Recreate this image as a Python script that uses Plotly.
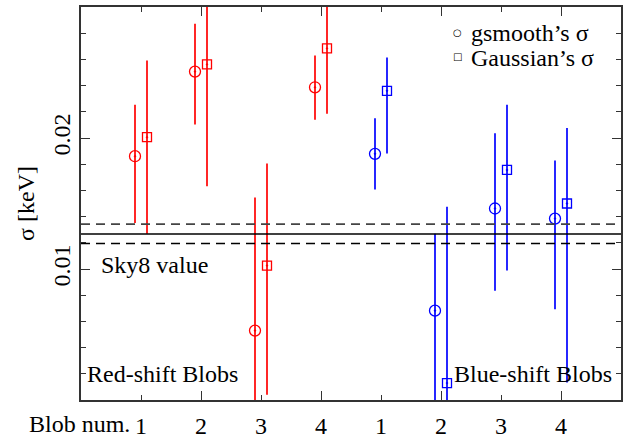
import plotly.graph_objects as go

# Blob tick labels along the x axis (red-shift 1-4, blue-shift 1-4)
blob_labels = ["1", "2", "3", "4", "1", "2", "3", "4"]
blob_ticks = [1, 2, 3, 4, 5, 6, 7, 8]
red_pos = [1, 2, 3, 4]
blue_pos = [5, 6, 7, 8]

# gsmooth's sigma [keV] with lower / upper bounds
red_gs = [0.01861, 0.02507, 0.00530, 0.02387]
red_gs_lo = [0.01352, 0.02103, -0.00500, 0.02140]
red_gs_hi = [0.02253, 0.02873, 0.01545, 0.02629]
blue_gs = [0.01879, 0.00682, 0.01462, 0.01385]
blue_gs_lo = [0.01607, -0.00500, 0.00834, 0.00692]
blue_gs_hi = [0.02150, 0.01270, 0.02036, 0.01829]

# Gaussian's sigma [keV] with lower / upper bounds
red_ga = [0.02006, 0.02562, 0.01026, 0.02684]
red_ga_lo = [0.01270, 0.01632, 0.00041, 0.02185]
red_ga_hi = [0.02592, 0.03400, 0.01806, 0.03300]
blue_ga = [0.02360, 0.00129, 0.01756, 0.01500]
blue_ga_lo = [0.01881, -0.01000, 0.00989, 0.00133]
blue_ga_hi = [0.02614, 0.01475, 0.02253, 0.02076]

# Sky8 reference value and its range
sky8 = 0.01267
sky8_lo = 0.01195
sky8_hi = 0.01343

SERIF = "Liberation Serif, Times New Roman, serif"
RED = "#ff0000"
BLUE = "#0000ff"
OFFSET = 0.1  # horizontal shift between the two estimators of one blob

fig = go.Figure()


def add_series(pos, val, lo, hi, color, symbol, size, shift):
    fig.add_trace(go.Scatter(
        x=[p + shift for p in pos],
        y=val,
        mode="markers",
        marker=dict(symbol=symbol, size=size, color=color,
                    line=dict(color=color, width=1.3)),
        error_y=dict(type="data", symmetric=False,
                     array=[h - v for h, v in zip(hi, val)],
                     arrayminus=[v - l for v, l in zip(val, lo)],
                     color=color, thickness=1.7, width=0),
        showlegend=False,
        xaxis="x", yaxis="y",
    ))


add_series(red_pos, red_gs, red_gs_lo, red_gs_hi, RED, "circle-open-dot", 11, -OFFSET)
add_series(red_pos, red_ga, red_ga_lo, red_ga_hi, RED, "square-open-dot", 9, OFFSET)
add_series(blue_pos, blue_gs, blue_gs_lo, blue_gs_hi, BLUE, "circle-open-dot", 11, -OFFSET)
add_series(blue_pos, blue_ga, blue_ga_lo, blue_ga_hi, BLUE, "square-open-dot", 9, OFFSET)

# Sky8 value: solid line with dashed range
fig.add_hline(y=sky8, line=dict(color="black", width=1.3))
fig.add_hline(y=sky8_hi, line=dict(color="#444444", width=1.8, dash="9px,6px"))
fig.add_hline(y=sky8_lo, line=dict(color="black", width=1.4, dash="9px,6px"))

axis_line = dict(showline=True, linecolor="#333333", linewidth=1.6, mirror="ticks",
                 showgrid=False, zeroline=False, ticks="inside",
                 tickcolor="#333333", tickwidth=1.3)

fig.update_layout(
    width=635, height=444,
    margin=dict(l=81, r=14, t=5, b=38),
    paper_bgcolor="white", plot_bgcolor="white",
    font=dict(family=SERIF, size=24, color="black"),
    showlegend=False,
    xaxis=dict(range=[0, 9], tickmode="array", tickvals=[0, 2, 4, 6, 8],
               ticklen=9, showticklabels=False,
               minor=dict(tickmode="array", tickvals=[1, 3, 5, 7], ticklen=5,
                          ticks="inside", tickcolor="#333333", tickwidth=1.3),
               **axis_line),
    xaxis2=dict(range=[0, 9], overlaying="x", side="bottom", anchor="y",
                tickmode="array", tickvals=blob_ticks, ticktext=blob_labels,
                ticks="", showline=False, showgrid=False, zeroline=False,
                ticklabelstandoff=9,
                tickfont=dict(family=SERIF, size=24, color="black")),
    yaxis=dict(range=[0, 0.03], tickmode="array", tickvals=[0.01, 0.02],
               ticktext=["0.01", "0.02"], ticklen=9, tickangle=-90,
               ticklabelstandoff=0,
               minor=dict(dtick=0.002, tick0=0, ticklen=5, ticks="inside",
                          tickcolor="#333333", tickwidth=1.3),
               title=dict(text="σ [keV]", standoff=7,
                          font=dict(family=SERIF, size=24)),
               **axis_line),
)

# draw tick labels through the overlay axis (needs at least one trace on it)
fig.add_trace(go.Scatter(x=[None], y=[None], xaxis="x2", yaxis="y",
                         showlegend=False, hoverinfo="skip"))

annotations = [
    dict(text="Sky8 value", x=0.033, y=0.343, xanchor="left", yanchor="middle"),
    dict(text="Red-shift Blobs", x=0.008, y=0.067, xanchor="left", yanchor="middle"),
    dict(text="Blue-shift Blobs", x=0.987, y=0.067, xanchor="right", yanchor="middle"),
    dict(text="gsmooth’s σ", x=0.718, y=0.933, xanchor="left", yanchor="middle"),
    dict(text="Gaussian’s σ", x=0.718, y=0.871, xanchor="left", yanchor="middle"),
    dict(text="Blob num.", x=0.0, y=-0.062, xanchor="right", yanchor="middle",
         xshift=51),
]
for a in annotations:
    fig.add_annotation(xref="paper", yref="paper", showarrow=False,
                       font=dict(family=SERIF, size=24, color="black"), **a)

# legend keys
for sym, yy in [("○", 0.935), ("□", 0.875)]:
    fig.add_annotation(xref="paper", yref="paper", showarrow=False, text=sym,
                       x=0.697, y=yy, xanchor="center", yanchor="middle",
                       font=dict(family="DejaVu Sans", size=10, color="black"))

fig.write_html("out.html")
